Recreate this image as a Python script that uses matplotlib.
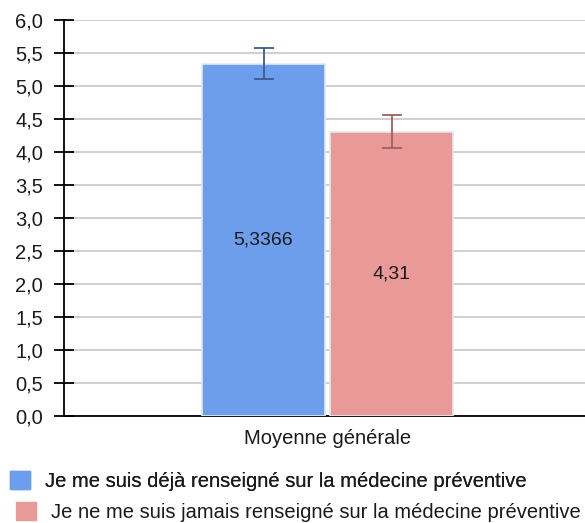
import matplotlib.pyplot as plt
from matplotlib.patches import Patch

categorie = "Moyenne générale"
series = ["Je me suis déjà renseigné sur la médecine préventive",
          "Je ne me suis jamais renseigné sur la médecine préventive"]
moyennes = [5.3366, 4.31]
erreurs = [0.235, 0.255]
etiquettes = ["5,3366", "4,31"]
yticks = [0.0, 0.5, 1.0, 1.5, 2.0, 2.5, 3.0, 3.5, 4.0, 4.5, 5.0, 5.5, 6.0]

couleurs = ['#6d9eeb', '#ea9999']
couleurs_err = ['#3e5c8e', '#a35f5f']

plt.rcParams['font.family'] = ['Liberation Sans', 'DejaVu Sans']

fig = plt.figure(figsize=(5.85, 5.23), dpi=100)
ax = fig.add_axes([64/585, 1 - 416/523, 1 - 64/585, (416 - 20)/523])

largeur = 0.236
pos = [0.383, 0.629]
for i in range(2):
    b = ax.bar(pos[i], moyennes[i], width=largeur, color=couleurs[i],
               edgecolor='#e4e8ee', linewidth=1.2, zorder=3)
    ax.errorbar(pos[i], moyennes[i], yerr=erreurs[i], fmt='none',
                ecolor=couleurs_err[i], elinewidth=1.3, capsize=7, capthick=1.3, zorder=4)
    ax.bar_label(b, labels=[etiquettes[i]], label_type='center', fontsize=14, color='#1a1a1a')

ax.set_xlim(0, 1)
ax.set_ylim(0, 6)
ax.set_yticks(yticks)
ax.set_yticklabels([("%.1f" % t).replace('.', ',') for t in yticks], fontsize=14.5, color='#1a1a1a')
ax.tick_params(axis='y', direction='inout', length=14.4, width=1.3, color='black', pad=8)
ax.set_xticks([0.506])
ax.set_xticklabels([categorie], fontsize=14.5, color='#1a1a1a')
ax.tick_params(axis='x', length=0, pad=9)
ax.grid(axis='y', color='#cccccc', linewidth=1.3, zorder=0)
ax.set_axisbelow(True)
for s in ['top', 'right']:
    ax.spines[s].set_visible(False)
ax.spines['left'].set_linewidth(1.3)
ax.spines['bottom'].set_linewidth(1.3)

leg1 = fig.legend(handles=[Patch(color=couleurs[0], label=series[0])],
                  loc='center left', bbox_to_anchor=(10/585, 1 - 481/523), frameon=False,
                  fontsize=14.5, handlelength=1.0, handleheight=1.0, handletextpad=0.75,
                  borderaxespad=0, borderpad=0, labelcolor='#1a1a1a')
fig.add_artist(leg1)
fig.legend(handles=[Patch(color=couleurs[1], label=series[1])],
           loc='center left', bbox_to_anchor=(16/585, 1 - 512/523), frameon=False,
           fontsize=14.5, handlelength=1.0, handleheight=1.0, handletextpad=0.75,
           borderaxespad=0, borderpad=0, labelcolor='#1a1a1a')

fig.savefig('out.png', dpi=100)
